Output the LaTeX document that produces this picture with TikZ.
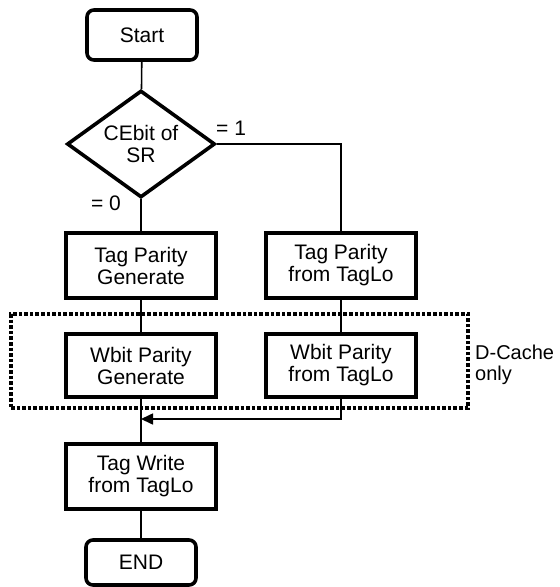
\documentclass[tikz,border=0pt]{standalone}
\usepackage{fontspec}
\setmainfont{Liberation Sans}
\usetikzlibrary{shapes.geometric,arrows.meta}
\begin{document}
\begin{tikzpicture}[x=1pt,y=-1pt,
  every node/.style={font=\fontsize{21}{22}\selectfont, align=center, inner sep=0pt},
  term/.style={draw, line width=3.6pt, rounded corners=7pt, minimum width=110pt, minimum height=50pt},
  proc/.style={draw, line width=3.6pt, minimum width=150pt, minimum height=65pt},
  decision/.style={draw, diamond, line width=3.6pt, minimum width=148pt, minimum height=107pt, aspect=1.38},
  conn/.style={line width=1.6pt},
  grpbox/.style={draw, line width=3.4pt, dash pattern=on 3.6pt off 2pt, minimum width=457pt, minimum height=94pt},
  lbl/.style={}
]
\useasboundingbox (0,0) rectangle (560,587);

\node[grpbox] (grp) at (239.5,361) {};
\node[lbl, anchor=west, align=left, font=\fontsize{20}{21.5}\selectfont] (dc) at (475,365) {D-Cache\\only};

\node[term] (start) at (142,35) {Start};
\node[decision] (dec) at (141,144) {CEbit of\\SR};
\node[proc] (tpg) at (141,265.5) {Tag Parity\\Generate};
\node[proc] (tpt) at (341,265.5) {Tag Parity\\from TagLo};
\node[proc, minimum height=63pt] (wpg) at (141,365.5) {Wbit Parity\\Generate};
\node[proc, minimum height=63pt] (wpt) at (341,365.5) {Wbit Parity\\from TagLo};
\node[proc] (tw) at (141,476.5) {Tag Write\\from TagLo};
\node[term, minimum height=45pt] (end) at (141,562.5) {END};

\node[lbl, anchor=west] (l1) at (216,128) {= 1};
\node[lbl, anchor=east] (l0) at (121,203) {= 0};

\coordinate (merge) at (141,419);

\draw[conn] (start) -- (dec);
\draw[conn] (dec) -- (tpg);
\draw[conn] (dec.east) -| (tpt.north);
\draw[conn] (tpg) -- (wpg);
\draw[conn] (tpt) -- (wpt);
\draw[conn] (wpg) -- (tw);
\draw[conn,-{Triangle[length=12pt,width=11pt]}] (wpt.south) |- (merge);
\draw[conn] (tw) -- (end);
\end{tikzpicture}
\end{document}
